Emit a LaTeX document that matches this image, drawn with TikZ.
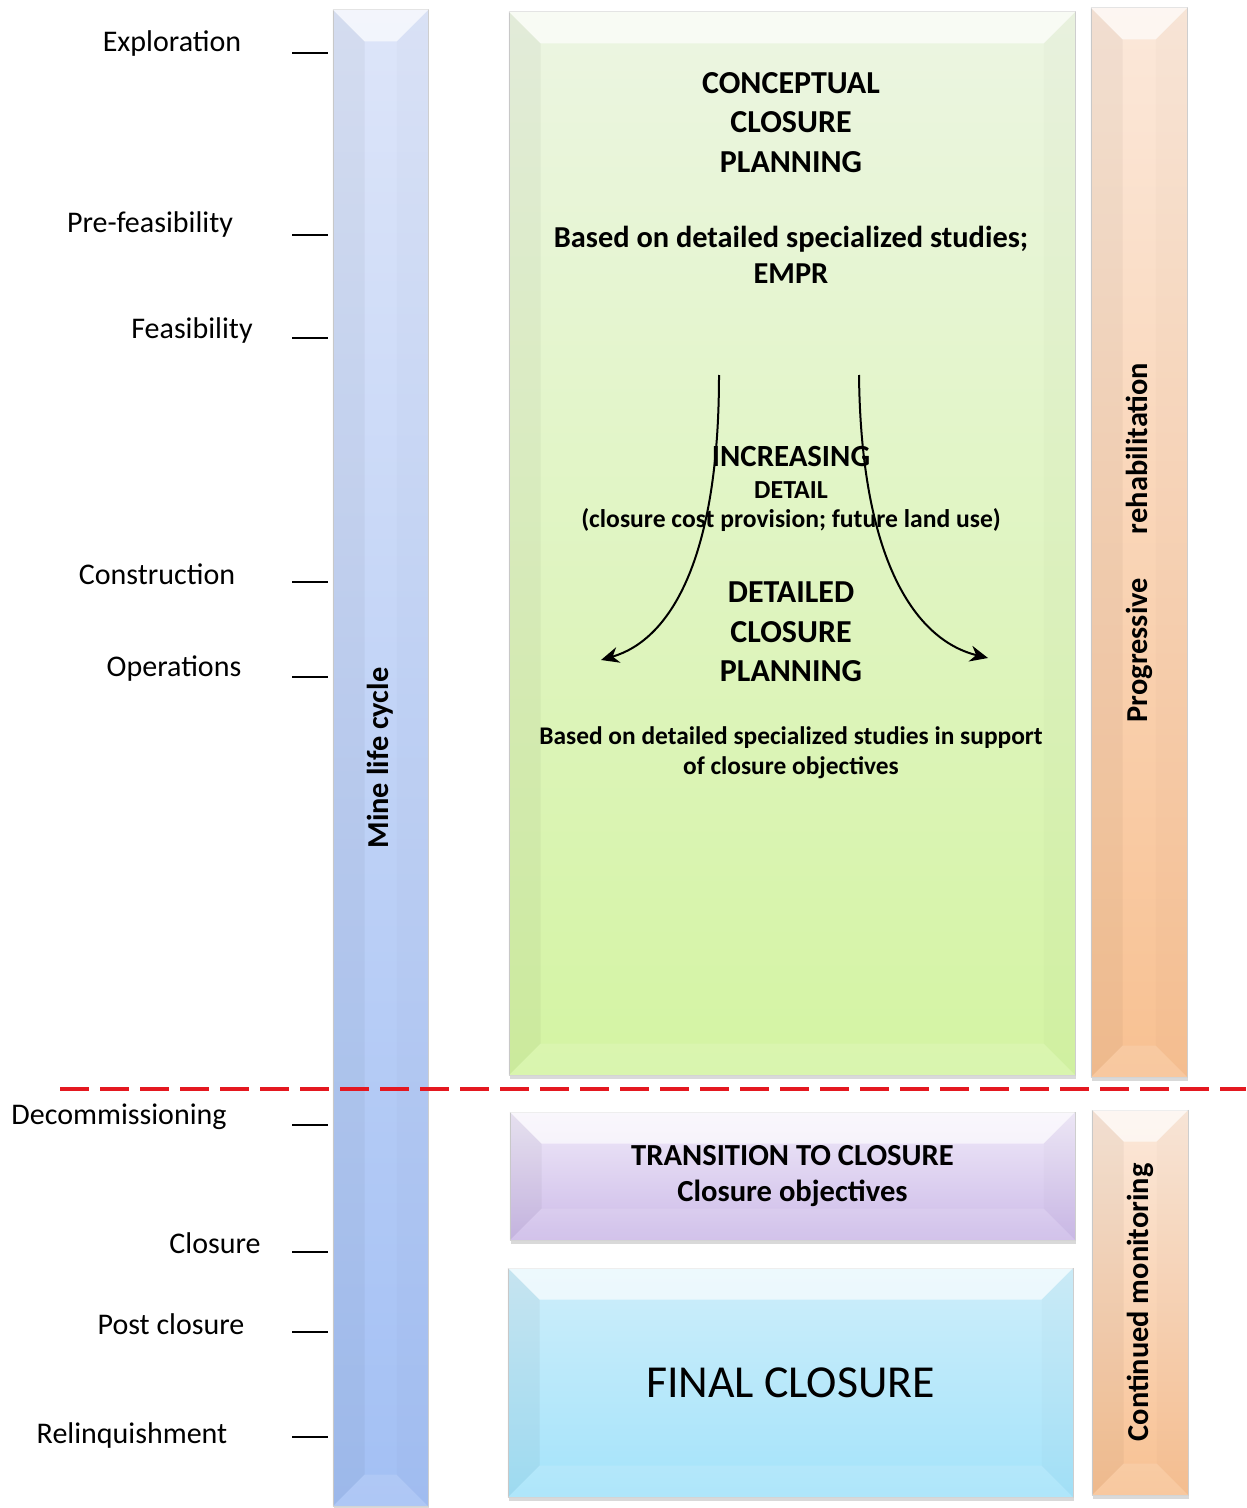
\documentclass[tikz,border=0pt]{standalone}
\usepackage{fontspec}
\setmainfont{Carlito}
\usepackage{tikz}
\usetikzlibrary{positioning,arrows.meta,calc,shadows}

\definecolor{lifeTop}{RGB}{221,229,249}
\definecolor{lifeBot}{RGB}{163,192,244}
\definecolor{planTop}{RGB}{236,245,226}
\definecolor{planBot}{RGB}{212,244,163}
\definecolor{rehabTop}{RGB}{251,232,218}
\definecolor{rehabBot}{RGB}{248,193,146}
\definecolor{transTop}{RGB}{240,234,249}
\definecolor{transBot}{RGB}{204,186,232}
\definecolor{finalTop}{RGB}{206,238,250}
\definecolor{finalBot}{RGB}{164,227,250}
\definecolor{cutred}{RGB}{228,24,32}

% bevel overlay on a named panel
\newcommand{\bevel}[1]{%
  \fill[white,opacity=0.65] (#1.north west) -- (#1.north east) -- ($(#1.north east)+(-32,32)$) -- ($(#1.north west)+(32,32)$) -- cycle;
  \fill[black,opacity=0.04] (#1.north west) -- ($(#1.north west)+(32,32)$) -- ($(#1.south west)+(32,-32)$) -- (#1.south west) -- cycle;
  \fill[black,opacity=0.015] (#1.north east) -- ($(#1.north east)+(-32,32)$) -- ($(#1.south east)+(-32,-32)$) -- (#1.south east) -- cycle;
  \fill[white,opacity=0.12] (#1.south west) -- ($(#1.south west)+(32,-32)$) -- ($(#1.south east)+(-32,-32)$) -- (#1.south east) -- cycle;
}

\begin{document}
\begin{tikzpicture}[
  x=0.5pt,y=-0.5pt,
  panel/.style 2 args={rectangle,draw=black!18,line width=0.5pt,top color=#1,bottom color=#2,inner sep=0pt,
    drop shadow={shadow xshift=0.5pt,shadow yshift=-2pt,opacity=0.3}},
  stage/.style={font=\fontsize{15}{17}\selectfont,inner sep=0pt},
  stagetick/.style={line width=1pt,black},
  headtxt/.style={font=\bfseries\fontsize{16}{19.75}\selectfont,align=center,inner sep=0pt},
  notetxt/.style={font=\bfseries\fontsize{15.2}{18}\selectfont,align=center,inner sep=0pt},
  smalltxt/.style={font=\bfseries\fontsize{12.7}{15}\selectfont,align=center,inner sep=0pt},
  sidetxt/.style={font=\bfseries\fontsize{15.2}{17}\selectfont,rotate=90,inner sep=0pt},
  widen/.style={-{Stealth[length=9pt,width=8pt]},line width=1pt},
  cutline/.style={cutred,line width=2pt,dash pattern=on 14.5pt off 5.5pt},
]
\useasboundingbox (0,0) rectangle (1246,1508);

% === Panels ===
\node[panel={lifeTop}{lifeBot},minimum width=47.5pt,minimum height=748pt] (life) at (380.5,758) {};
\node[panel={planTop}{planBot},minimum width=283pt,minimum height=531.5pt] (plan) at (792,543.5) {};
\node[panel={rehabTop}{rehabBot},minimum width=48pt,minimum height=534.5pt] (rehab) at (1139,542.5) {};
\node[panel={transTop}{transBot},minimum width=282.5pt,minimum height=64pt] (trans) at (792.5,1176) {};
\node[panel={finalTop}{finalBot},minimum width=282.5pt,minimum height=114.5pt] (final) at (790.5,1382.5) {};
\node[panel={rehabTop}{rehabBot},minimum width=48pt,minimum height=192.5pt] (monitor) at (1140,1302.5) {};

\bevel{life}
\bevel{plan}
\bevel{rehab}
\bevel{trans}
\bevel{final}
\bevel{monitor}

% === Mine life cycle stages ===
\node[stage] (explore) at (172,44) {Exploration};
\node[stage] (prefeas) at (150,225) {Pre-feasibility};
\node[stage] (feas) at (192,331) {Feasibility};
\node[stage] (construct) at (157,574) {Construction};
\node[stage] (operate) at (174,669) {Operations};
\node[stage] (decom) at (119,1117) {Decommissioning};
\node[stage] (closure) at (215,1243) {Closure};
\node[stage] (post) at (171,1324) {Post closure};
\node[stage] (relinq) at (132,1435) {Relinquishment};

\foreach \y in {53,235,338,582,677,1125,1252,1332,1437}
  \draw[stagetick] (292,\y) -- (328,\y);

% === Side labels ===
\node[sidetxt] (lifelbl) at (life.center) {Mine life cycle};
\node[sidetxt] (rehablbl) at (rehab.center) {Progressive\hspace{22pt}rehabilitation};
\node[sidetxt] (monlbl) at (monitor.center) {Continued monitoring};

% === Planning texts ===
\node[headtxt] (concept) at (791,122.5) {CONCEPTUAL\\CLOSURE\\PLANNING};
\node[notetxt] (basis) at (791,255) {Based on detailed specialized studies;\\EMPR};
\node[headtxt,font=\bfseries\fontsize{15.4}{19}\selectfont] (incr) at (791,457) {INCREASING};
\node[smalltxt,font=\bfseries\fontsize{13}{15}\selectfont] (detail) at (791,490) {DETAIL};
\node[smalltxt,font=\bfseries\fontsize{12.8}{15}\selectfont] (provis) at (791,520) {(closure cost provision; future land use)};
\node[headtxt] (detailed) at (791,632) {DETAILED\\CLOSURE\\PLANNING};
\node[smalltxt] (support) at (791,753) {Based on detailed specialized studies in support\\of closure objectives};

\node[notetxt,font=\bfseries\fontsize{15.3}{18}\selectfont] (transtxt) at (trans.center) {TRANSITION TO CLOSURE\\Closure objectives};
\node[font=\fontsize{22.9}{26}\selectfont,inner sep=0pt] (finaltxt) at (final.center) {FINAL CLOSURE};

% === Widening arrows ===
\coordinate (growL) at (719,375);
\coordinate (growR) at (859,375);
\coordinate (tipL) at (601,660);
\coordinate (tipR) at (988,658);
\draw[widen] (growL) .. controls (719,560) and (670,640) .. (tipL);
\draw[widen] (growR) .. controls (861,560) and (915,640) .. (tipR);

% === Closure cut line ===
\coordinate (cutL) at (60,1089);
\coordinate (cutR) at (1246,1089);
\draw[cutline] (cutL) -- (cutR);

\end{tikzpicture}
\end{document}
